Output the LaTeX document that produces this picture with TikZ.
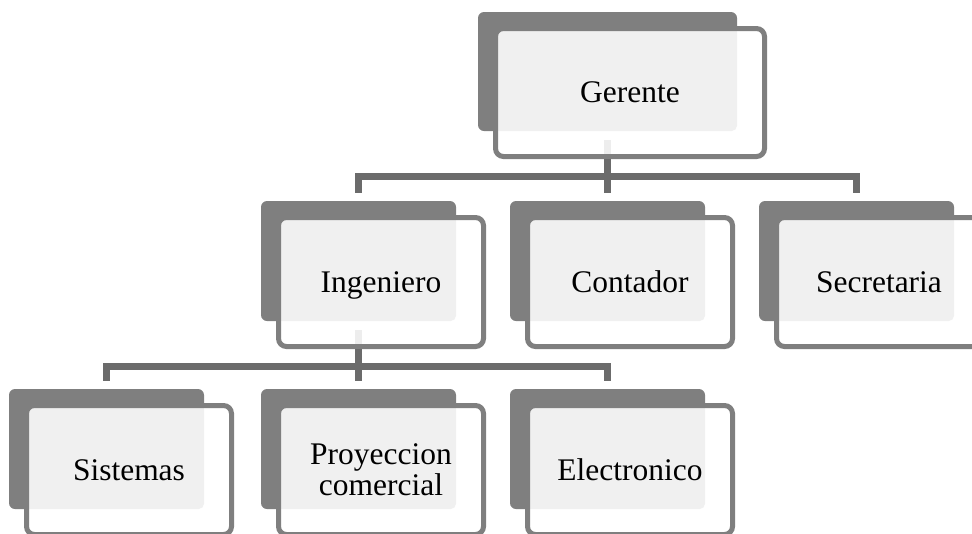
\documentclass[tikz,border=0pt]{standalone}
\usepackage{fontspec}
\setmainfont{Liberation Serif}
\definecolor{boxdark}{HTML}{7F7F7F}
\definecolor{boxlight}{HTML}{F0F0F0}
\definecolor{conncol}{HTML}{6B6B6B}
\definecolor{stubcol}{HTML}{EDEDED}
\newcommand\orgbox[6]{%
  \fill[boxdark, rounded corners=4.5pt] (#2,#3) rectangle (#4,#5);
  \fill[white, rounded corners=6pt] ({#2+17.5},{#3+16.5}) rectangle ({#4+27.5},{#5+25.5});
  \begin{scope}
    \clip[rounded corners=6pt] ({#2+17.5},{#3+16.5}) rectangle ({#4+27.5},{#5+25.5});
    \fill[boxlight, rounded corners=4pt] ({#2+10},{#3+10}) rectangle (#4,#5);
  \end{scope}
  \draw[boxdark, line width=3.75pt, rounded corners=6pt] ({#2+17.5},{#3+16.5}) rectangle ({#4+27.5},{#5+25.5});
  \node[lbl, minimum width={(#4-#2+15)*0.75pt}, minimum height={(#5-#3+14)*0.75pt}] (#1) at ({(#2+#4+45)/2},{(#3+#5+42)/2}) {#6};
  \coordinate (#1-in) at ({(#2+#4)/2},{#3-8});
  \coordinate (#1-out) at ({(#2+#4)/2},{#5+9});
}
\begin{document}
\begin{tikzpicture}[x=0.75pt,y=-0.75pt,
  lbl/.style={inner sep=0pt, outer sep=0pt, align=center, font=\fontsize{23.6pt}{23.3pt}\selectfont, text height=15.6pt, text depth=0pt},
  lbltwo/.style={text height=38.9pt, text depth=0pt},
  conn/.style={draw=conncol, line width=4.8pt, line cap=butt, line join=miter},
  stubline/.style={draw=stubcol, line width=4.8pt, line cap=butt}]
\useasboundingbox (0,0) rectangle (972,533);
\clip (0,0) rectangle (972,533);
\orgbox{g}{478}{12}{737}{131}{Gerente}
\orgbox{ing}{261}{201}{456}{321}{Ingeniero}
\orgbox{con}{510}{201}{705}{321}{Contador}
\orgbox{sec}{759}{201}{954}{321}{Secretaria}
\orgbox{sis}{9}{389}{204}{509}{Sistemas}
\orgbox{pro}{261}{389}{456}{509}{\hbox{}}
\orgbox{ele}{510}{389}{705}{509}{Electronico}
\node[lbl, lbltwo] (protext) at (pro) {Proyeccion\\comercial};
% stubs inside parent boxes
\draw[stubline] (g-out) -- ++(0,14);
\draw[stubline] (ing-out) -- ++(0,14);
% connectors
\draw[conn] (g-out |- g.south) -- ++(0,17.5) -| (ing-in);
\draw[conn] (g-out |- g.south) -- ++(0,17.5) -| (sec-in);
\draw[conn] (g-out |- g.south) -- (con-in);
\draw[conn] (ing-out |- ing.south) -- ++(0,17.5) -| (sis-in);
\draw[conn] (ing-out |- ing.south) -- ++(0,17.5) -| (ele-in);
\draw[conn] (ing-out |- ing.south) -- (pro-in);
\end{tikzpicture}
\end{document}
